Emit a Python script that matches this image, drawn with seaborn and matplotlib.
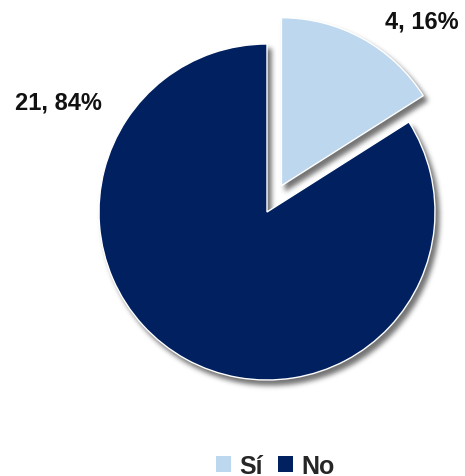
import numpy as np
import matplotlib
matplotlib.use("Agg")
import matplotlib.pyplot as plt
import seaborn as sns
from matplotlib.patches import Patch

# Data
categories = ["Sí", "No"]
counts = [4, 21]
colors = ["#BDD7EE", "#002060"]

sns.set_style("white")
plt.rcParams["font.family"] = ["Liberation Sans", "DejaVu Sans"]

W, H = 465, 477
fig = plt.figure(figsize=(W / 100, H / 100), dpi=100)
ax = fig.add_axes([0, 0, 1, 1])

center = (267, 264)
radius = 168
explode = [30, 0]


def _gauss_blur(a, sigma):
    r = int(3 * sigma)
    k = np.exp(-0.5 * (np.arange(-r, r + 1) / sigma) ** 2)
    k /= k.sum()
    a = np.apply_along_axis(lambda m: np.convolve(m, k, mode="same"), 0, a)
    a = np.apply_along_axis(lambda m: np.convolve(m, k, mode="same"), 1, a)
    return a


def soft_shadow(im, dpi, pad=14, dx=4, dy=5, sigma=2.5, strength=0.55):
    alpha = np.pad(im[..., 3], pad)
    alpha = np.roll(alpha, dx, axis=1)
    alpha = np.roll(alpha, dy, axis=0)
    alpha = _gauss_blur(alpha, sigma)
    out = np.zeros(alpha.shape + (4,), dtype=float)
    out[..., 3] = np.clip(alpha * strength, 0, 1)
    return out, -pad, -pad


# Shadow layer
shadow_wedges, _ = ax.pie(counts, colors=colors, startangle=90, counterclock=False,
                          explode=explode, center=center, radius=radius, frame=True)
for w in shadow_wedges:
    w.set_agg_filter(soft_shadow)
    w.set_rasterized(True)
    w.set_zorder(1)

# Main pie
wedges, _ = ax.pie(counts, colors=colors, startangle=90, counterclock=False,
                   explode=explode, center=center, radius=radius, frame=True)
for w in wedges:
    w.set_zorder(2)
ax.set_xlim(0, W)
ax.set_ylim(0, H)
ax.set_aspect("equal")
ax.axis("off")

total = sum(counts)
label_pos = [(422, 455), (58, 374)]
for v, (x, y) in zip(counts, label_pos):
    ax.text(x, y, f"{v}, {round(100 * v / total)}%", ha="center", va="center",
            fontsize=17, fontweight="bold", color="#111111", zorder=3)

handles = [Patch(facecolor=c, edgecolor="none", label=l) for c, l in zip(colors, categories)]
fig.legend(handles=handles, loc="center", bbox_to_anchor=(0.592, 0.022), ncol=2,
           frameon=False, handlelength=0.6, handleheight=0.6, handletextpad=0.35,
           columnspacing=0.6, prop={"weight": "bold", "size": 18})

fig.savefig("out.png", dpi=100)
